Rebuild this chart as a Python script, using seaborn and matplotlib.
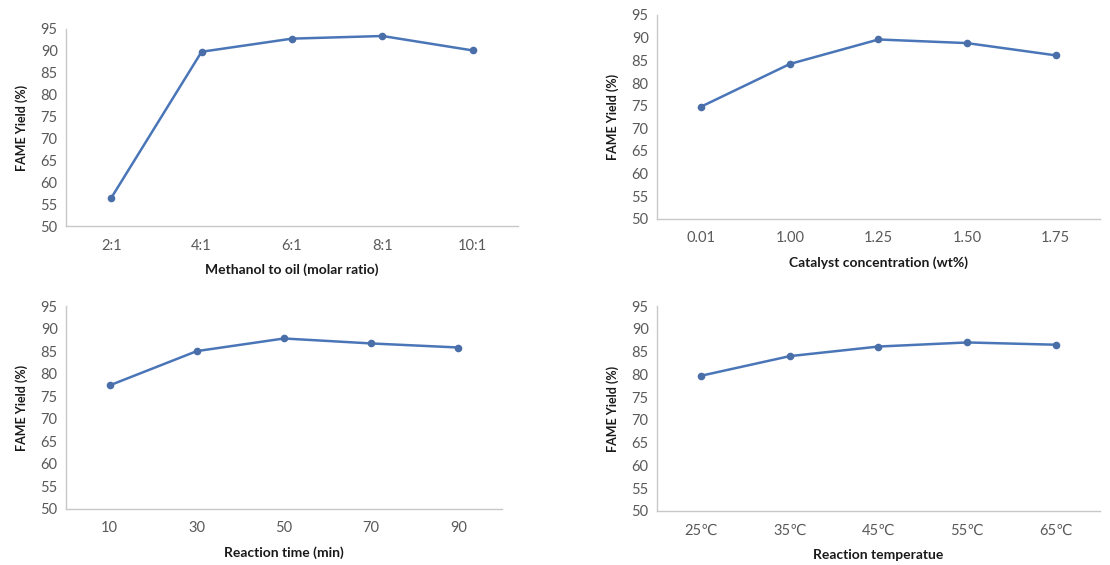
import matplotlib
matplotlib.use("Agg")
import matplotlib.pyplot as plt
import seaborn as sns
import pandas as pd

sns.set_theme(style="white")
plt.rcParams['font.family'] = ['Lato', 'DejaVu Sans']

# ---- data ----
methanol_cats = ["2:1", "4:1", "6:1", "8:1", "10:1"]
methanol_yield = [56.4, 89.8, 92.8, 93.4, 90.1]

catalyst_cats = ["0.01", "1.00", "1.25", "1.50", "1.75"]
catalyst_yield = [74.8, 84.2, 89.6, 88.8, 86.1]

time_cats = ["10", "30", "50", "70", "90"]
time_yield = [77.4, 85.0, 87.8, 86.7, 85.8]

temp_cats = ["25\u2103", "35\u2103", "45\u2103", "55\u2103", "65\u2103"]
temp_yield = [79.7, 84.0, 86.1, 87.0, 86.5]

y_ticks = [50, 55, 60, 65, 70, 75, 80, 85, 90, 95]
ylabel = "FAME Yield (%)"

W, H = 1110, 565
fig = plt.figure(figsize=(W / 100, H / 100), dpi=100)

def px_axes(left, right, top, bottom):
    return fig.add_axes([left / W, 1 - bottom / H, (right - left) / W, (bottom - top) / H])

panels = [
    (methanol_cats, methanol_yield, "Methanol to oil (molar ratio)", (66, 518, 29, 226)),
    (catalyst_cats, catalyst_yield, "Catalyst concentration (wt%)", (657, 1100, 15, 219)),
    (time_cats, time_yield, "Reaction time (min)", (66, 502, 306, 509)),
    (temp_cats, temp_yield, "Reaction temperatue", (657, 1100, 306, 511)),
]

line_color = "#4a76b8"
spine_color = "#c8c8c8"
tick_color = "#595959"

for cats, vals, xlabel, box in panels:
    ax = px_axes(*box)
    df = pd.DataFrame({"x": cats, "y": vals})
    sns.lineplot(data=df, x="x", y="y", ax=ax, color=line_color, linewidth=1.8,
                 marker="o", markersize=5.5, markeredgewidth=0,
                 markerfacecolor="#4a6fa8")
    ax.set_xlim(-0.5, len(cats) - 0.5)
    ax.set_ylim(50, 95)
    ax.set_yticks(y_ticks)
    ax.set_xticks(range(len(cats)))
    ax.set_xticklabels(cats)
    ax.tick_params(axis="both", length=0, labelsize=10.5, colors=tick_color)
    ax.tick_params(axis="x", pad=9)
    ax.tick_params(axis="y", pad=6)
    for s in ["top", "right"]:
        ax.spines[s].set_visible(False)
    for s in ["left", "bottom"]:
        ax.spines[s].set_color(spine_color)
        ax.spines[s].set_linewidth(1.0)
    ax.set_xlabel(xlabel, fontsize=10, fontweight="bold", color="#1a1a1a", labelpad=8)
    ax.set_ylabel(ylabel, fontsize=9, fontweight="bold", color="#1a1a1a", labelpad=9)
    ax.set_facecolor("white")

fig.savefig("out.png", dpi=100, facecolor="white")
